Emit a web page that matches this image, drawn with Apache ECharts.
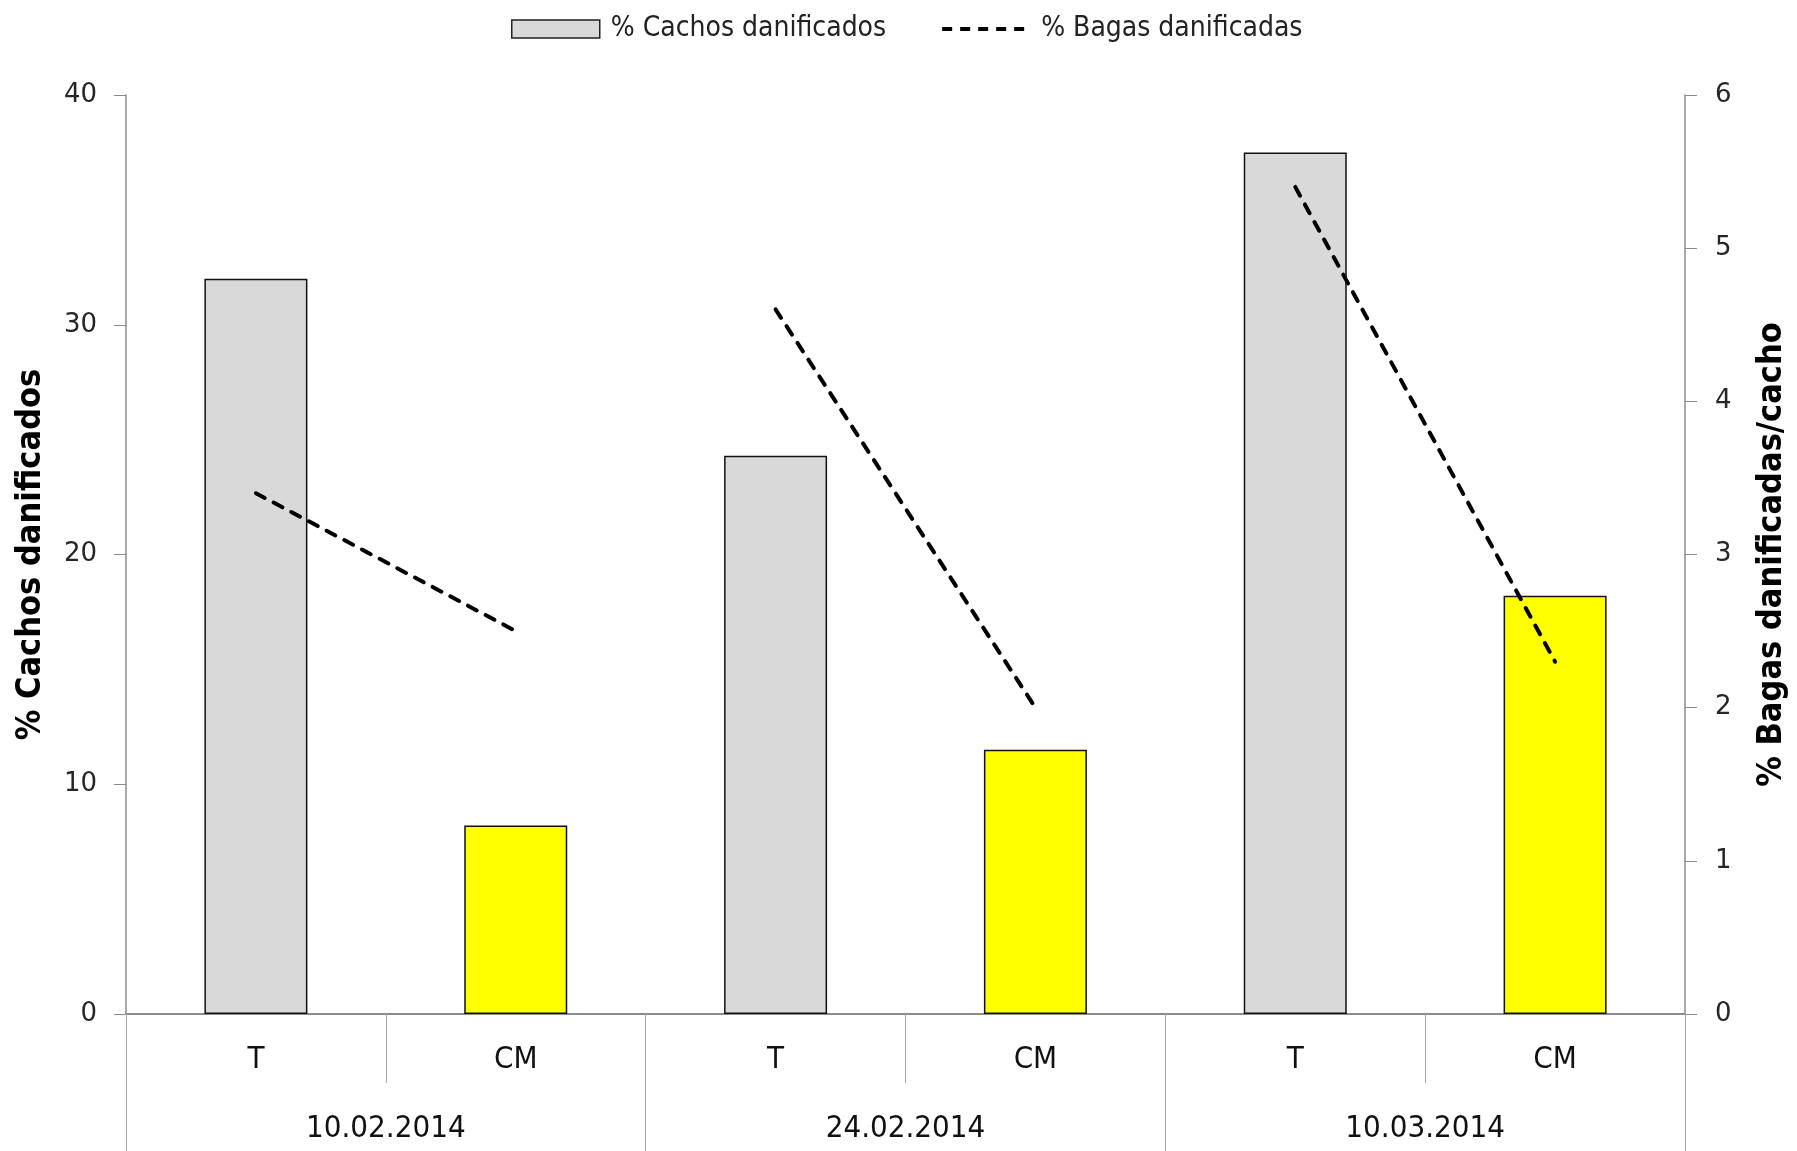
<!DOCTYPE html>
<html>
<head>
<meta charset="utf-8">
<script src="https://cdn.jsdelivr.net/npm/echarts@6/dist/echarts.min.js"></script>
<style>
html,body{margin:0;padding:0;background:#fff;}
#chart{width:1797px;height:1151px;}
</style>
</head>
<body>
<div id="chart"></div>
<script>
// ---- data ----
const treatments = ['T', 'CM', 'T', 'CM', 'T', 'CM'];
const dates = ['10.02.2014', '24.02.2014', '10.03.2014'];
const cachosDanificados = [32.0, 8.2, 24.3, 11.5, 37.5, 18.2];
const bagasDanificadas = [3.4, 2.5, 4.6, 2.0, 5.4, 2.3];
const leftTicks = [0, 10, 20, 30, 40];
const rightTicks = [0, 1, 2, 3, 4, 5, 6];

const barName = '% Cachos danificados';
const lineName = '% Bagas danificadas';

// split the line into one segment per date (T -> CM)
const lineSegments = dates.map((d, g) =>
  treatments.map((t, i) => (Math.floor(i / 2) === g ? bagasDanificadas[i] : null))
);

const chart = echarts.init(document.getElementById('chart'), null, { renderer: 'canvas' });

const axisGrey = '#8c8c8c';
const condensed = '"DejaVu Sans Condensed", "DejaVu Sans", sans-serif';

const option = {
  backgroundColor: '#ffffff',
  animation: false,
  legend: {
    top: 10,
    left: 506,
    itemWidth: 88,
    itemHeight: 18,
    itemGap: 54,
    textStyle: { fontFamily: condensed, fontSize: 28, color: '#222', padding: [0, 0, 0, 6] },
    data: [
      { name: barName, icon: 'rect', itemStyle: { color: '#D9D9D9', borderColor: '#222', borderWidth: 1.5 } },
      { name: lineName, itemStyle: { color: 'transparent', opacity: 0, borderWidth: 0 },
        lineStyle: { color: '#000', width: 4, type: [10, 8], cap: 'butt' } }
    ]
  },
  grid: { left: 126, right: 112, top: 95, bottom: 137 },
  xAxis: [
    {
      type: 'category',
      data: treatments,
      position: 'bottom',
      axisLine: { show: true, lineStyle: { color: axisGrey, width: 2 } },
      axisTick: { show: true, interval: 0, length: 69, lineStyle: { color: '#a6a6a6', width: 1 } },
      axisLabel: { interval: 0, margin: 30, fontFamily: condensed, fontSize: 31, color: '#111' },
      splitLine: { show: false }
    },
    {
      type: 'category',
      data: dates,
      position: 'bottom',
      axisLine: { show: false },
      axisTick: { show: true, interval: 0, length: 140, lineStyle: { color: '#a6a6a6', width: 1 } },
      axisLabel: { interval: 0, margin: 99, fontFamily: condensed, fontSize: 31, color: '#111' },
      splitLine: { show: false }
    }
  ],
  yAxis: [
    {
      type: 'value',
      min: leftTicks[0],
      max: leftTicks[leftTicks.length - 1],
      interval: 10,
      name: '% Cachos danificados',
      nameLocation: 'middle',
      nameRotate: 90,
      nameGap: 78,
      nameTextStyle: { fontFamily: condensed, fontSize: 34, fontWeight: 'bold', color: '#000' },
      axisLine: { show: true, lineStyle: { color: axisGrey, width: 1.5 } },
      axisTick: { show: true, length: 12, lineStyle: { color: axisGrey, width: 1 } },
      axisLabel: { margin: 29, fontFamily: '"DejaVu Sans", sans-serif', fontSize: 26, color: '#262626' },
      splitLine: { show: false }
    },
    {
      type: 'value',
      min: rightTicks[0],
      max: rightTicks[rightTicks.length - 1],
      interval: 1,
      position: 'right',
      name: '% Bagas danificadas/cacho',
      nameLocation: 'middle',
      nameRotate: 90,
      nameGap: 70,
      nameTextStyle: { fontFamily: condensed, fontSize: 34, fontWeight: 'bold', color: '#000' },
      axisLine: { show: true, lineStyle: { color: axisGrey, width: 1.5 } },
      axisTick: { show: true, length: 12, lineStyle: { color: axisGrey, width: 1 } },
      axisLabel: { margin: 30, fontFamily: '"DejaVu Sans", sans-serif', fontSize: 26, color: '#262626' },
      splitLine: { show: false }
    }
  ],
  series: [
    {
      name: barName,
      type: 'bar',
      xAxisIndex: 0,
      yAxisIndex: 0,
      barWidth: 103,
      data: cachosDanificados,
      itemStyle: {
        color: (p) => (treatments[p.dataIndex] === 'T' ? '#D9D9D9' : '#FFFF00'),
        borderColor: '#111',
        borderWidth: 1.5
      },
      z: 2
    }
  ].concat(lineSegments.map((seg) => ({
    name: lineName,
    type: 'line',
    xAxisIndex: 0,
    yAxisIndex: 1,
    data: seg,
    symbol: 'none',
    connectNulls: false,
    lineStyle: { color: '#000', width: 4, type: [10, 10], cap: 'round' },
    itemStyle: { color: '#000' },
    z: 5
  })))
};

chart.setOption(option);
</script>
</body>
</html>
